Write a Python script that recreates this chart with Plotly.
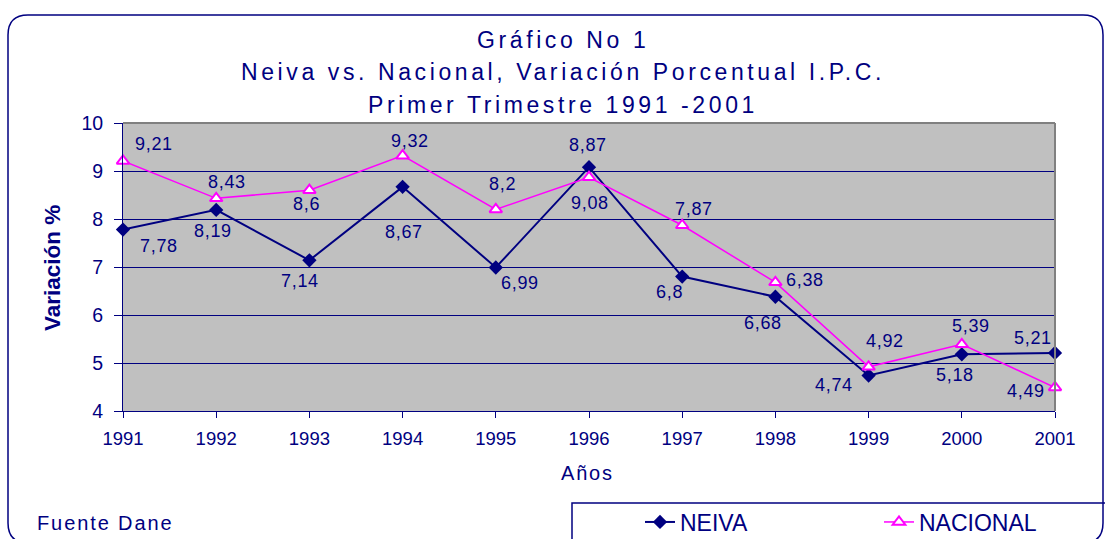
import plotly.graph_objects as go

# ---- data ----
years = [1991, 1992, 1993, 1994, 1995, 1996, 1997, 1998, 1999, 2000, 2001]
neiva = [7.78, 8.19, 7.14, 8.67, 6.99, 9.08, 6.80, 6.38, 4.74, 5.18, 5.21]
nacional = [9.21, 8.43, 8.60, 9.32, 8.20, 8.87, 7.87, 6.68, 4.92, 5.39, 4.49]
title_lines = ["Gráfico No 1",
               "Neiva vs. Nacional, Variación Porcentual I.P.C.",
               "Primer Trimestre 1991 -2001"]

# ---- label placement (pixel offsets from point: dx right, dy down) ----
neiva_off = [(36, 16), (-3, 21), (-9, 21), (1, 45), (24, 16), (1, 36),
             (-13, 15), (30, -17), (-35, 10), (-7, 21), (-22, -15)]
nac_off = [(31, -17), (11, -16), (-3, 14), (7, -15), (7, -25), (-1, -32),
           (12, -16), (-12, 41), (16, -26), (9, -18), (-29, 4)]

NAVY = "#000080"
MAG = "#FF00FF"
FONT = "Liberation Sans, Arial, sans-serif"

W, H = 1105, 539
L, R, T, B = 123, 50, 123, 128
PW, PH = W - L - R, H - T - B


def px(x):
    return (x - L) / PW


def py(y):
    return (H - B - y) / PH


def fmt(v):
    return f"{v:g}".replace(".", ",")


def spaced(t, s):
    return f"<span style='letter-spacing:{s}px'>{t}</span>"


fig = go.Figure()
fig.add_trace(go.Scatter(
    x=years, y=neiva, name="NEIVA", mode="lines+markers",
    line=dict(color=NAVY, width=2),
    marker=dict(symbol="diamond", size=11, color=NAVY),
    cliponaxis=False))
fig.add_trace(go.Scatter(
    x=years, y=nacional, name="NACIONAL", mode="lines+markers",
    line=dict(color=MAG, width=1.5),
    marker=dict(symbol="triangle-up", size=11, color="white",
                line=dict(color=MAG, width=2)),
    cliponaxis=False))

ann = []
for series, offs in ((neiva, neiva_off), (nacional, nac_off)):
    for x, v, (dx, dy) in zip(years, series, offs):
        ann.append(dict(x=x, y=v, xref="x", yref="y", text=spaced(fmt(v), 0.7),
                        showarrow=False, xshift=dx, yshift=-dy,
                        font=dict(family=FONT, size=18, color=NAVY)))

for i, t in enumerate(title_lines):
    ann.append(dict(x=px(563), y=py(40 + i * 32.5), xref="paper", yref="paper",
                    text=spaced(t, 3.6), showarrow=False, xanchor="center",
                    yanchor="middle",
                    font=dict(family=FONT, size=23, color=NAVY)))

ann.append(dict(x=px(52), y=py(268), xref="paper", yref="paper",
                text="<b>Variación %</b>", textangle=-90, showarrow=False,
                xanchor="center", yanchor="middle",
                font=dict(family=FONT, size=22.5, color=NAVY)))
ann.append(dict(x=px(587), y=py(473), xref="paper", yref="paper",
                text=spaced("Años", 1.8), showarrow=False, xanchor="center",
                yanchor="middle",
                font=dict(family=FONT, size=20, color=NAVY)))
ann.append(dict(x=px(35), y=py(523), xref="paper", yref="paper",
                text=spaced("Fuente Dane", 1.9), showarrow=False, xanchor="left",
                yanchor="middle",
                font=dict(family=FONT, size=20, color=NAVY)))

# outer rounded frame
x0, y0, x1, y1, r = 8, 15, 1103, 543, 20
rx, ry = r / PW, r / PH
X0, X1, Y0, Y1 = px(x0), px(x1), py(y0), py(y1)
path = (f"M{X0+rx},{Y0} L{X1-rx},{Y0} Q{X1},{Y0} {X1},{Y0-ry} "
        f"L{X1},{Y1+ry} Q{X1},{Y1} {X1-rx},{Y1} L{X0+rx},{Y1} "
        f"Q{X0},{Y1} {X0},{Y1+ry} L{X0},{Y0-ry} Q{X0},{Y0} {X0+rx},{Y0} Z")

shapes = [
    dict(type="path", path=path, xref="paper", yref="paper",
         line=dict(color=NAVY, width=1.5)),
    dict(type="rect", xref="paper", yref="paper",
         x0=px(572), x1=px(1130), y0=py(503), y1=py(570),
         line=dict(color=NAVY, width=1.5)),
    dict(type="line", xref="paper", yref="paper", x0=0, x1=1, y0=1, y1=1,
         line=dict(color="#808080", width=2)),
    dict(type="line", xref="paper", yref="paper", x0=1, x1=1, y0=0, y1=1,
         line=dict(color="#808080", width=2)),
]

fig.update_layout(
    width=W, height=H, autosize=False,
    margin=dict(l=L, r=R, t=T, b=B, autoexpand=False),
    paper_bgcolor="white", plot_bgcolor="#C0C0C0",
    showlegend=True,
    legend=dict(orientation="h", x=px(640), y=py(522), xanchor="left",
                yanchor="middle", bgcolor="rgba(0,0,0,0)", borderwidth=0,
                entrywidth=194,
                font=dict(family=FONT, size=23, color=NAVY)),
    annotations=ann, shapes=shapes,
    xaxis=dict(range=[1991, 2001], tickvals=years, ticks="outside", ticklen=6,
               tickcolor=NAVY, showline=True, linecolor=NAVY, linewidth=1,
               showgrid=False, zeroline=False, ticklabelstandoff=5,
               tickfont=dict(family=FONT, size=18.5, color=NAVY)),
    yaxis=dict(range=[4, 10], dtick=1, ticks="outside", ticklen=8,
               tickcolor=NAVY, showline=True, linecolor=NAVY, linewidth=1,
               showgrid=True, gridcolor=NAVY, gridwidth=1, zeroline=False,
               ticklabelstandoff=7,
               tickfont=dict(family=FONT, size=19.5, color=NAVY)),
)

fig.write_html(
    "out.html",
    config={"responsive": False, "displayModeBar": False},
    post_script="document.body.style.margin='0';"
                "document.body.style.overflow='hidden';"
                "document.documentElement.style.overflow='hidden';",
)
